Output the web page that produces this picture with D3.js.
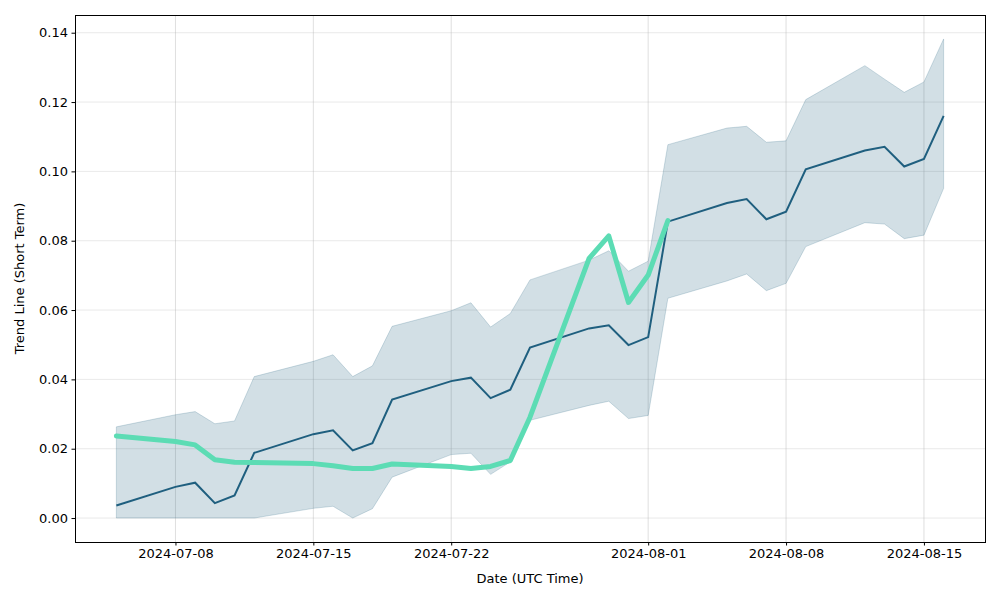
<!DOCTYPE html>
<html><head><meta charset="utf-8">
<script src="https://cdn.jsdelivr.net/npm/d3@7"></script>
<style>body{margin:0;background:#fff}svg{display:block}text{font-family:"DejaVu Sans",sans-serif}</style>
</head><body><svg id="c" width="1000" height="600"></svg>
<script>
const dates = ["2024-07-05","2024-07-08","2024-07-09","2024-07-10","2024-07-11","2024-07-12",
"2024-07-15","2024-07-16","2024-07-17","2024-07-18","2024-07-19",
"2024-07-22","2024-07-23","2024-07-24","2024-07-25","2024-07-26",
"2024-07-29","2024-07-30","2024-07-31","2024-08-01","2024-08-02",
"2024-08-05","2024-08-06","2024-08-07","2024-08-08","2024-08-09",
"2024-08-12","2024-08-13","2024-08-14","2024-08-15","2024-08-16"];
const trend = [0.0036,0.0090,0.0102,0.0043,0.0065,0.0188,
0.0242,0.0253,0.0195,0.0216,0.0342,
0.0395,0.0405,0.0346,0.0370,0.0492,
0.0547,0.0556,0.0499,0.0522,0.0855,
0.0909,0.0920,0.0862,0.0884,0.1006,
0.1060,0.1071,0.1014,0.1036,0.1160];
const upper = [0.0263,0.0298,0.0307,0.0272,0.0280,0.0408,
0.0452,0.0471,0.0408,0.0439,0.0553,
0.0598,0.0621,0.0551,0.0590,0.0687,
0.0744,0.0771,0.0712,0.0741,0.1077,
0.1125,0.1130,0.1084,0.1088,0.1207,
0.1305,0.1266,0.1228,0.1258,0.1382];
const lower = [0.0,0.0,0.0,0.0,0.0,0.0,
0.0028,0.0034,0.0,0.0027,0.0118,
0.0183,0.0187,0.0126,0.0162,0.0282,
0.0325,0.0337,0.0287,0.0296,0.0634,
0.0684,0.0704,0.0656,0.0677,0.0783,
0.0852,0.0848,0.0806,0.0816,0.0951];
const green = [0.0237,0.0221,0.0211,0.0168,0.0161,0.0160,
0.0157,0.0151,0.0143,0.0143,0.0156,
0.0149,0.0143,0.0149,0.0166,0.0291,
0.0749,0.0814,0.0622,0.0701,0.0858];
const yTicks = [0,0.02,0.04,0.06,0.08,0.10,0.12,0.14];
const xTicks = ["2024-07-08","2024-07-15","2024-07-22","2024-08-01","2024-08-08","2024-08-15"];

const parse = d3.utcParse("%Y-%m-%d");
const X = dates.map(parse);
const L = 75, R = 985, T = 15, B = 542;
const svg = d3.select("#c");
const span = X[X.length-1] - X[0];
const x = d3.scaleUtc().domain([new Date(+X[0] - span*0.05), new Date(+X[X.length-1] + span*0.05)]).range([L, R]);
const yr = 0.1382;
const y = d3.scaleLinear().domain([-yr*0.05, yr*1.05]).range([B, T]);

// grid
const g = svg.append("g");
xTicks.forEach(t => g.append("line").attr("x1", x(parse(t))).attr("x2", x(parse(t))).attr("y1", T).attr("y2", B)
  .attr("stroke", "#b0b0b0").attr("stroke-opacity", 0.5).attr("stroke-width", 0.8));
yTicks.forEach(t => g.append("line").attr("x1", L).attr("x2", R).attr("y1", y(t)).attr("y2", y(t))
  .attr("stroke", "#b0b0b0").attr("stroke-opacity", 0.35).attr("stroke-width", 0.8));

const idx = d3.range(dates.length);
const area = d3.area().x(i => x(X[i])).y0(i => y(lower[i])).y1(i => y(upper[i]));
svg.append("path").attr("d", area(idx)).attr("fill", "#1f5f7f").attr("fill-opacity", 0.2)
  .attr("stroke", "#1f5f7f").attr("stroke-opacity", 0.2).attr("stroke-width", 1);

const line = d3.line().x(i => x(X[i])).y(i => y(trend[i]));
svg.append("path").attr("d", line(idx)).attr("fill", "none").attr("stroke", "#1f5f7f").attr("stroke-width", 2);

const gl = d3.line().x(i => x(X[i])).y(i => y(green[i]));
svg.append("path").attr("d", gl(d3.range(green.length))).attr("fill", "none").attr("stroke", "#5cdcb4")
  .attr("stroke-width", 5).attr("stroke-linejoin", "round").attr("stroke-linecap", "round");

// axes
const xa = svg.append("g").attr("transform", `translate(0,${B})`)
  .call(d3.axisBottom(x).tickValues(xTicks.map(parse)).tickFormat(d3.utcFormat("%Y-%m-%d")).tickSize(3.5).tickPadding(3.5));
const ya = svg.append("g").attr("transform", `translate(${L},0)`)
  .call(d3.axisLeft(y).tickValues(yTicks).tickFormat(d3.format(".2f")).tickSize(3.5).tickPadding(3.5));
[xa, ya].forEach(a => { a.select(".domain").remove(); a.selectAll("text").attr("font-size", 13).attr("fill", "#000")
  .attr("font-family", "DejaVu Sans"); a.selectAll("line").attr("stroke", "#000").attr("stroke-width", 1); });
svg.append("rect").attr("x", L + 0.5).attr("y", T + 0.5).attr("width", R-L).attr("height", B-T)
  .attr("fill", "none").attr("stroke", "#000").attr("stroke-width", 1);

svg.append("text").attr("x", (L+R)/2).attr("y", 583).attr("text-anchor", "middle").attr("font-size", 13).text("Date (UTC Time)");
svg.append("text").attr("transform", `translate(24,${(T+B)/2}) rotate(-90)`).attr("text-anchor", "middle")
  .attr("font-size", 13).text("Trend Line (Short Term)");
</script></body></html>
